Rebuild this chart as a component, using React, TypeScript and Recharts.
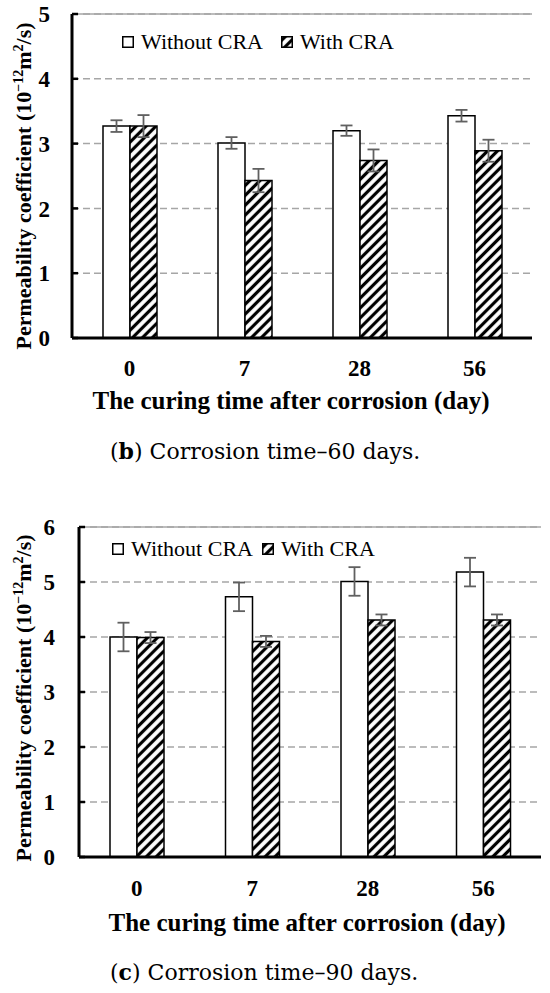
import React from 'react';
import { BarChart, Bar, XAxis, YAxis, CartesianGrid, ErrorBar, Legend, ReferenceLine } from 'recharts';

const days = ['0', '7', '28', '56'];

// corrosion time 60 days
const without60 = [3.27, 3.01, 3.2, 3.43];
const without60Err = [0.09, 0.09, 0.08, 0.09];
const with60 = [3.27, 2.43, 2.74, 2.89];
const with60Err = [0.17, 0.18, 0.17, 0.17];
const ticks60 = [0, 1, 2, 3, 4, 5];

// corrosion time 90 days
const without90 = [4.0, 4.73, 5.01, 5.18];
const without90Err = [0.26, 0.26, 0.26, 0.26];
const with90 = [3.99, 3.92, 4.31, 4.31];
const with90Err = [0.1, 0.1, 0.1, 0.1];
const ticks90 = [0, 1, 2, 3, 4, 5, 6];

const seriesNames = ['Without CRA', 'With CRA'];
const xTitle = 'The curing time after corrosion (day)';

const build = (a: number[], ae: number[], b: number[], be: number[]) =>
  days.map((d, i) => ({ day: d, without: a[i], withoutErr: ae[i], with: b[i], withErr: be[i] }));

const data60 = build(without60, without60Err, with60, with60Err);
const data90 = build(without90, without90Err, with90, with90Err);

const SERIF = '"Liberation Serif", "Times New Roman", serif';
const GRID = '#a6a6a6';
const ERR = '#606060';

const Hatch = ({ id }: { id: string }) => (
  <pattern id={id} patternUnits="userSpaceOnUse" width={7} height={7} patternTransform="rotate(45)">
    <rect width={7} height={7} fill="#fff" />
    <line x1={3.5} y1={0} x2={3.5} y2={7} stroke="#000" strokeWidth={3.2} />
  </pattern>
);

const XTick = ({ x, y, payload, dy }: any) => (
  <text x={x} y={y} dy={dy} textAnchor="middle" fontFamily={SERIF} fontWeight="bold" fontSize={23} fill="#000">
    {payload.value}
  </text>
);

const YTitle = ({ x, y }: { x: number; y: number }) => (
  <text
    x={x}
    y={y}
    transform={`rotate(-90, ${x}, ${y})`}
    textAnchor="middle"
    fontFamily={SERIF}
    fontWeight="bold"
    fontSize={22}
    fill="#000"
  >
    Permeability coefficient (10
    <tspan dy={-8} fontSize={14}>−12</tspan>
    <tspan dy={8}>m</tspan>
    <tspan dy={-8} fontSize={14}>2</tspan>
    <tspan dy={8}>/s)</tspan>
  </text>
);

const LegendRow = ({ payload, hatchId, gap }: any) => {
  const items = [...(payload || [])].sort(
    (a: any, b: any) => seriesNames.indexOf(a.value) - seriesNames.indexOf(b.value)
  );
  return (
    <div style={{ display: 'flex', alignItems: 'center', fontFamily: SERIF, fontSize: 22, color: '#000', lineHeight: '26px' }}>
      {items.map((entry: any, i: number) => (
        <div key={i} style={{ display: 'flex', alignItems: 'center', marginRight: i === 0 ? gap : 0 }}>
          <svg width={12} height={12} style={{ marginRight: 7 }}>
            <rect
              x={0.75}
              y={0.75}
              width={10.5}
              height={10.5}
              fill={entry.dataKey === 'with' ? `url(#${hatchId})` : '#fff'}
              stroke="#000"
              strokeWidth={1.5}
            />
          </svg>
          <span>{entry.value}</span>
        </div>
      ))}
    </div>
  );
};

type PanelProps = {
  data: any[];
  ticks: number[];
  hatchId: string;
  top: number;
  height: number;
  marginRight: number;
  yAxisWidth: number;
  yTickMargin: number;
  legendPos: { left: number; top: number; gap: number };
  xTickDy: number;
  xTitleDx: number;
  xTitleDy: number;
  yTitleX: number;
  yTitleDy: number;
  caption: { tag: string; text: string; top: number };
};

const Panel = (p: PanelProps) => {
  const yMax = p.ticks[p.ticks.length - 1];
  return (
    <div style={{ position: 'absolute', left: 0, top: p.top, width: 550 }}>
      <BarChart
        width={550}
        height={p.height}
        data={p.data}
        margin={{ top: 14, right: p.marginRight, bottom: 2, left: 10 }}
        barGap={0}
        barSize={27}
      >
        <defs>
          <Hatch id={p.hatchId} />
        </defs>
        <CartesianGrid vertical={false} stroke={GRID} strokeWidth={1.5} strokeDasharray="7 4" />
        <XAxis
          dataKey="day"
          height={80}
          axisLine={{ stroke: '#000', strokeWidth: 3 }}
          tickLine={false}
          tickSize={0}
          tickMargin={0}
          tick={<XTick dy={p.xTickDy} />}
          label={{
            content: (lp: any) => {
              const vb = lp.viewBox || {};
              return (
                <text
                  x={vb.x + vb.width / 2 + p.xTitleDx}
                  y={vb.y + p.xTitleDy}
                  textAnchor="middle"
                  fontFamily={SERIF}
                  fontWeight="bold"
                  fontSize={25}
                  fill="#000"
                >
                  {xTitle}
                </text>
              );
            },
          }}
        />
        <YAxis
          width={p.yAxisWidth}
          domain={[0, yMax]}
          ticks={p.ticks}
          interval={0}
          axisLine={{ stroke: '#000', strokeWidth: 3 }}
          tickLine={{ stroke: '#000', strokeWidth: 2.5 }}
          tickSize={-6}
          tickMargin={p.yTickMargin}
          tick={{ fontFamily: SERIF, fontWeight: 'bold', fontSize: 23, fill: '#000' }}
          label={{
            content: (lp: any) => {
              const vb = lp.viewBox || {};
              return <YTitle x={p.yTitleX} y={vb.y + vb.height / 2 + p.yTitleDy} />;
            },
          }}
        />
        <YAxis
          yAxisId="border"
          orientation="right"
          width={0}
          tick={false}
          tickLine={false}
          axisLine={{ stroke: GRID, strokeWidth: 1.5 }}
        />
        <ReferenceLine y={yMax} stroke={GRID} strokeWidth={1.5} />
        <Legend
          layout="horizontal"
          verticalAlign="middle"
          align="center"
          wrapperStyle={{ left: p.legendPos.left, top: p.legendPos.top, width: 'auto' }}
          content={(lp: any) => <LegendRow payload={lp.payload} hatchId={p.hatchId} gap={p.legendPos.gap} />}
        />
        <Bar dataKey="without" name={seriesNames[0]} fill="#fff" stroke="#000" strokeWidth={1.5} isAnimationActive={false}>
          <ErrorBar dataKey="withoutErr" width={6} stroke={ERR} strokeWidth={1.8} direction="y" isAnimationActive={false} />
        </Bar>
        <Bar dataKey="with" name={seriesNames[1]} fill={`url(#${p.hatchId})`} stroke="#000" strokeWidth={1.5} isAnimationActive={false}>
          <ErrorBar dataKey="withErr" width={6} stroke={ERR} strokeWidth={1.8} direction="y" isAnimationActive={false} />
        </Bar>
      </BarChart>
      <div
        style={{
          position: 'absolute',
          left: 110,
          top: p.caption.top,
          fontFamily: '"DejaVu Serif", serif',
          fontSize: 22,
          lineHeight: '22px',
          color: '#000',
          whiteSpace: 'nowrap',
        }}
      >
        (<b>{p.caption.tag}</b>) {p.caption.text}
      </div>
    </div>
  );
};

export default function App() {
  return (
    <div style={{ position: 'absolute', left: 0, top: 0, width: 550, height: 993, background: '#fff', overflow: 'hidden' }}>
      <Panel
        data={data60}
        ticks={ticks60}
        hatchId="hatch60"
        top={0}
        height={420}
        marginRight={18}
        yAxisWidth={62}
        yTickMargin={28}
        legendPos={{ left: 122, top: 29, gap: 18 }}
        xTickDy={38}
        xTitleDx={-11}
        xTitleDy={71}
        yTitleX={31}
        yTitleDy={10}
        caption={{ tag: 'b', text: 'Corrosion time–60 days.', top: 440 }}
      />
      <Panel
        data={data90}
        ticks={ticks90}
        hatchId="hatch90"
        top={513}
        height={426}
        marginRight={9}
        yAxisWidth={69}
        yTickMargin={30}
        legendPos={{ left: 112, top: 23, gap: 9 }}
        xTickDy={39}
        xTitleDx={-3}
        xTitleDy={74}
        yTitleX={31}
        yTitleDy={6}
        caption={{ tag: 'c', text: 'Corrosion time–90 days.', top: 448 }}
      />
    </div>
  );
}
